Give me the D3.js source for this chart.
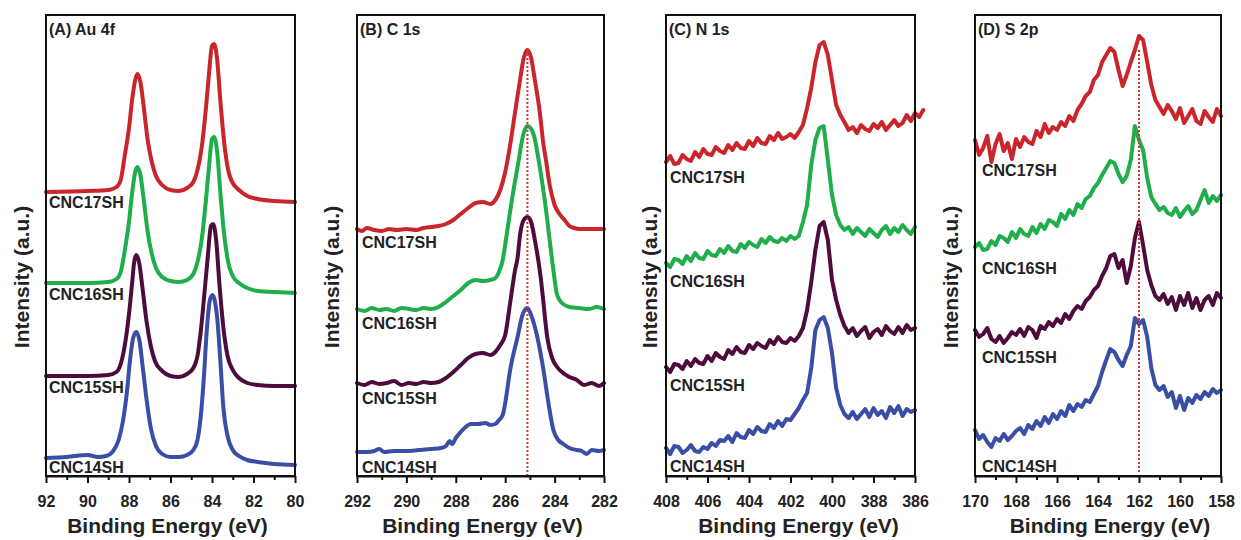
<!DOCTYPE html>
<html>
<head>
<meta charset="utf-8">
<script src="https://cdn.jsdelivr.net/npm/d3@7"></script>
<style>
body { margin: 0; background: #fff; }
svg text { font-family: "Liberation Sans", Arial, sans-serif; font-weight: bold; fill: #222; }
</style>
</head>
<body>
<svg id="chart" width="1241" height="540"></svg>
<script>
// sample names, top trace first
const seriesNames = ['CNC17SH', 'CNC16SH', 'CNC15SH', 'CNC14SH'];
const seriesColors = ['#c9252b', '#1fae4b', '#4d0c3c', '#3b4ea6'];

// (A) Au 4f : [binding energy, intensity a.u.]
const au4f17 = [[92,308],[90,309],[89,310],[88.6,313],[88.4,320],[88.2,345],[88,372],[87.85,400],[87.7,420],[87.6,426],[87.45,418],[87.3,395],[87.1,360],[86.9,338],[86.7,324],[86.4,315],[86,310],[85.6,309],[85.2,312],[84.9,318],[84.7,330],[84.5,352],[84.3,390],[84.15,425],[84,454],[83.9,456],[83.75,440],[83.6,400],[83.4,355],[83.2,328],[83,317],[82.7,310],[82.3,304],[81.8,301],[81,299],[80,298]];
const au4f16 = [[92,217],[90,217],[89,218],[88.6,221],[88.4,228],[88.2,250],[88,278],[87.85,307],[87.7,328],[87.6,333],[87.45,325],[87.3,302],[87.1,268],[86.9,246],[86.7,232],[86.4,223],[86,219],[85.6,218],[85.2,220],[84.9,226],[84.7,238],[84.5,260],[84.3,298],[84.15,332],[84,361],[83.9,363],[83.75,348],[83.6,308],[83.4,263],[83.2,236],[83,224],[82.7,217],[82.3,212],[81.8,209],[81,208],[80,207]];
const au4f15 = [[92,124],[90,124],[89,125],[88.6,128],[88.4,136],[88.2,155],[88,186],[87.85,217],[87.75,238],[87.65,245],[87.5,236],[87.35,212],[87.15,178],[86.95,154],[86.75,139],[86.4,129],[86,124],[85.6,123],[85.2,126],[84.9,132],[84.7,144],[84.55,167],[84.35,210],[84.2,244],[84.05,274],[83.95,276],[83.8,260],[83.65,218],[83.45,172],[83.25,144],[83,130],[82.7,122],[82.3,117],[81.8,115],[81,114],[80,114]];
const au4f14 = [[92,42],[91,43],[90,45],[89.5,43],[89.1,44],[88.8,48],[88.5,60],[88.3,78],[88.1,108],[87.95,140],[87.8,162],[87.65,168],[87.5,160],[87.35,135],[87.15,100],[86.95,72],[86.7,54],[86.4,46],[86,43],[85.6,43],[85.2,45],[84.9,50],[84.7,60],[84.55,82],[84.4,120],[84.25,170],[84.1,200],[83.98,205],[83.75,182],[83.6,140],[83.45,92],[83.25,64],[83,50],[82.7,44],[82.3,40],[81.8,38],[81,36],[80,35]];

// (B) C 1s
const c1s17 = [[292,271],[291.8,269],[291.6,272],[291.3,270],[291,269],[290.7,271],[290.4,270],[290,271],[289.6,270],[289.3,272],[289,273],[288.7,274],[288.4,276],[288.1,280],[287.8,286],[287.5,292],[287.2,297],[286.9,298],[286.6,296],[286.4,300],[286.2,310],[286,328],[285.8,355],[285.6,388],[285.4,420],[285.25,442],[285.1,450],[284.95,442],[284.8,420],[284.6,388],[284.45,355],[284.35,340],[284.2,315],[284,295],[283.8,286],[283.6,280],[283.4,274],[283.2,272],[283,271],[282.6,271],[282,271]];
const c1s16 = [[292,191],[291.7,189],[291.4,192],[291.1,190],[290.8,191],[290.5,189],[290.2,192],[289.9,191],[289.6,190],[289.3,192],[289,191],[288.7,193],[288.4,198],[288.1,204],[287.8,210],[287.5,217],[287.2,220],[286.9,219],[286.6,220],[286.4,222],[286.25,228],[286.1,240],[285.93,267],[285.73,300],[285.5,333],[285.25,367],[285.1,374],[284.87,367],[284.6,333],[284.4,300],[284.2,260],[284.05,230],[283.9,205],[283.7,197],[283.4,193],[283,192],[282.6,191],[282.3,193],[282,191]];
const c1s15 = [[292,117],[291.7,115],[291.4,118],[291.1,116],[290.8,117],[290.5,119],[290.2,115],[289.9,117],[289.6,116],[289.3,118],[289,117],[288.7,118],[288.4,122],[288.1,128],[287.8,135],[287.5,142],[287.2,146],[286.9,147],[286.6,145],[286.4,148],[286.2,155],[286,165],[285.8,197],[285.6,230],[285.5,242],[285.4,265],[285.25,280],[285.1,283],[284.95,278],[284.8,260],[284.65,238],[284.55,220],[284.45,197],[284.3,163],[284.1,142],[283.9,133],[283.6,126],[283.4,123],[283.1,120],[282.8,115],[282.5,117],[282.2,114],[282,117]];
const c1s14 = [[292,48],[291.6,48],[291.3,49],[291.1,51],[290.9,48],[290.5,49],[290,49],[289.5,50],[289,51],[288.6,52],[288.4,54],[288.25,59],[288.15,56],[288,62],[287.8,68],[287.6,73],[287.4,76],[287.1,76],[286.8,77],[286.6,75],[286.4,76],[286.25,80],[286.1,85],[286,97],[285.8,130],[285.5,163],[285.3,185],[285.1,192],[284.95,185],[284.7,163],[284.45,130],[284.25,97],[284.05,70],[283.85,60],[283.65,56],[283.4,52],[283.1,50],[282.9,49],[282.7,46],[282.5,50],[282.2,49],[282,50]];

// (C) N 1s, 0.2 eV steps from 408 eV
const n1sEnergy = d3.range(63).map(i => +(408 - 0.2 * i).toFixed(1));
const n1s17 = [338,344,336,337,345,341,339,348,343,351,346,345,353,349,347,355,350,357,352,351,359,354,362,357,356,364,360,367,361,363,366,362,368,375,392,412,438,455,458,445,420,395,385,378,370,373,367,375,371,369,376,372,378,370,375,380,374,377,385,379,387,383,390];
const n1s16 = [237,233,241,240,236,244,239,247,242,241,249,245,244,251,247,254,249,248,256,252,258,255,253,261,257,263,259,258,262,259,264,261,264,278,295,335,360,372,374,340,305,285,275,270,273,266,272,268,264,271,267,263,270,274,266,272,268,275,270,266,273];
const n1s15 = [133,128,136,135,131,139,134,141,137,136,144,139,147,143,141,150,146,153,148,147,155,151,157,154,152,160,156,163,158,157,162,159,164,172,190,218,250,274,278,260,220,200,185,174,167,172,164,169,173,162,168,171,165,174,169,166,173,167,175,170,172];
const n1s14 = [52,46,54,53,47,50,55,49,48,53,51,57,54,60,59,64,58,67,63,62,70,66,73,69,68,76,72,79,74,81,80,86,92,100,107,132,170,180,183,172,147,112,95,86,82,88,81,86,91,83,92,85,89,82,93,87,94,84,91,88,90];

// (D) S 2p, 0.2 eV steps from 170 eV
const s2pEnergy = d3.range(61).map(i => +(170 - 0.2 * i).toFixed(1));
const s2p17 = [360,345,352,364,338,356,366,349,357,341,361,353,363,358,356,369,363,376,367,373,370,378,374,384,379,390,396,404,408,420,425,438,445,452,448,430,414,425,438,450,464,460,438,415,400,393,386,395,389,381,392,377,384,391,379,376,389,383,378,391,384];
const s2p16 = [253,257,250,251,259,255,264,262,258,268,262,271,266,264,273,267,276,271,280,278,274,286,281,290,285,296,292,301,304,312,317,325,332,339,337,326,318,324,340,374,360,350,322,303,296,290,293,287,285,292,283,289,294,286,290,300,310,297,304,299,305];
const s2p15 = [170,163,166,172,161,158,164,157,162,168,165,171,164,173,170,162,174,171,178,174,181,177,186,181,189,194,191,199,203,210,214,224,232,244,246,232,240,217,234,262,278,255,230,215,204,200,206,196,203,190,204,195,207,192,202,190,200,204,195,207,202];
const s2p14 = [70,61,65,58,53,62,59,66,60,64,69,72,66,75,71,79,74,83,77,86,81,89,84,95,89,96,93,100,98,106,114,128,140,151,148,140,134,145,154,182,176,180,163,132,115,110,114,103,108,92,104,90,102,97,105,101,108,104,111,107,110];

// axis ticks
const auTicks = [92, 90, 88, 86, 84, 82, 80];
const auTickLabels = ['92', '90', '88', '86', '84', '82', '80'];
const cTicks = [292, 290, 288, 286, 284, 282];
const cTickLabels = ['292', '290', '288', '286', '284', '282'];
const nTicks = [408, 406, 404, 402, 400, 398, 396];
const nTickLabels = ['408', '406', '404', '402', '400', '388', '386'];
const sTicks = [170, 168, 166, 164, 162, 160, 158];
const sTickLabels = ['170', '168', '166', '164', '162', '160', '158'];

// reference lines: [energy, intensity from, intensity to]
const c1sRef = [285.1, 24, 452];
const s2pRef = [162.0, 28, 452];

const zip = (e, v) => v.map((d, i) => [e[i], d]);

const panels = [
    { title: '(A) Au 4f', domain: [92, 80], ticks: auTicks, labels: auTickLabels,
      series: [au4f17, au4f16, au4f15, au4f14], smooth: true, ref: null },
    { title: '(B) C 1s', domain: [292, 282], ticks: cTicks, labels: cTickLabels,
      series: [c1s17, c1s16, c1s15, c1s14], smooth: true, ref: c1sRef },
    { title: '(C) N 1s', domain: [408, 396], ticks: nTicks, labels: nTickLabels,
      series: [n1s17, n1s16, n1s15, n1s14].map(v => zip(n1sEnergy, v)), smooth: false, ref: null },
    { title: '(D) S 2p', domain: [170, 158], ticks: sTicks, labels: sTickLabels,
      series: [s2p17, s2p16, s2p15, s2p14].map(v => zip(s2pEnergy, v)), smooth: false, ref: s2pRef }
];

// layout (pixels)
const frameTop = 15, frameBottom = 476;
const layout = [
    { left: 46, right: 295, labelDx: 3, labelY: [208, 300, 393, 473], yTitleX: 29, xTitleDx: -3 },
    { left: 357, right: 604, labelDx: 5, labelY: [248, 329, 404, 473], yTitleX: 339, xTitleDx: 2 },
    { left: 666, right: 915, labelDx: 4, labelY: [183, 287, 391, 472], yTitleX: 657, xTitleDx: 8 },
    { left: 975, right: 1221, labelDx: 7, labelY: [176, 274, 363, 472], yTitleX: 958, xTitleDx: 12 }
];

const svg = d3.select('#chart');
const y = d3.scaleLinear().domain([24, 485]).range([frameBottom, frameTop]);

function drawPanel(p, L) {
    const g = svg.append('g');
    const x = d3.scaleLinear().domain(p.domain).range([L.left, L.right]);

    const line = d3.line()
        .x(d => x(d[0]))
        .y(d => y(d[1]))
        .curve(p.smooth ? d3.curveMonotoneX : d3.curveLinear);

    p.series.forEach((s, i) => {
        g.append('path')
            .attr('d', line(s))
            .attr('fill', 'none')
            .attr('stroke', seriesColors[i])
            .attr('stroke-width', 4)
            .attr('stroke-linejoin', 'round')
            .attr('stroke-linecap', 'round');
    });

    if (p.ref) {
        g.append('line')
            .attr('x1', x(p.ref[0])).attr('x2', x(p.ref[0]))
            .attr('y1', y(p.ref[1])).attr('y2', y(p.ref[2]))
            .attr('stroke', '#d8342c')
            .attr('stroke-width', 2)
            .attr('stroke-dasharray', '2,2');
    }

    seriesNames.forEach((name, i) => {
        g.append('text')
            .attr('x', L.left + L.labelDx)
            .attr('y', L.labelY[i])
            .attr('font-size', 16)
            .text(name);
    });

    g.append('text')
        .attr('x', L.left + 3)
        .attr('y', 35)
        .attr('font-size', 16)
        .text(p.title);

    g.append('rect')
        .attr('x', L.left).attr('y', frameTop)
        .attr('width', L.right - L.left).attr('height', frameBottom - frameTop)
        .attr('fill', 'none')
        .attr('stroke', '#111')
        .attr('stroke-width', 2);

    const lo = Math.min(...p.domain), hi = Math.max(...p.domain);
    const minors = d3.range(lo + 1, hi, 2);

    g.append('g')
        .attr('transform', `translate(0,${frameBottom})`)
        .call(d3.axisBottom(x).tickValues(minors).tickSize(4).tickFormat(''))
        .call(a => a.select('.domain').remove())
        .call(a => a.selectAll('line').attr('stroke', '#111').attr('stroke-width', 2));

    const axis = g.append('g')
        .attr('transform', `translate(0,${frameBottom})`)
        .call(d3.axisBottom(x)
            .tickValues(p.ticks)
            .tickFormat((d, i) => p.labels[i])
            .tickSize(7)
            .tickSizeOuter(0)
            .tickPadding(13));
    axis.select('.domain').attr('stroke', '#111').attr('stroke-width', 2);
    axis.selectAll('line').attr('stroke', '#111').attr('stroke-width', 2);
    axis.selectAll('text')
        .attr('font-size', 16)
        .attr('font-family', '"Liberation Sans", Arial, sans-serif')
        .attr('fill', '#222');

    g.append('text')
        .attr('x', (L.left + L.right) / 2 + L.xTitleDx)
        .attr('y', 533)
        .attr('text-anchor', 'middle')
        .attr('font-size', 21)
        .text('Binding Energy (eV)');

    g.append('text')
        .attr('transform', `translate(${L.yTitleX},277) rotate(-90)`)
        .attr('text-anchor', 'middle')
        .attr('font-size', 21)
        .text('Intensity (a.u.)');
}

panels.forEach((p, i) => drawPanel(p, layout[i]));
</script>
</body>
</html>
